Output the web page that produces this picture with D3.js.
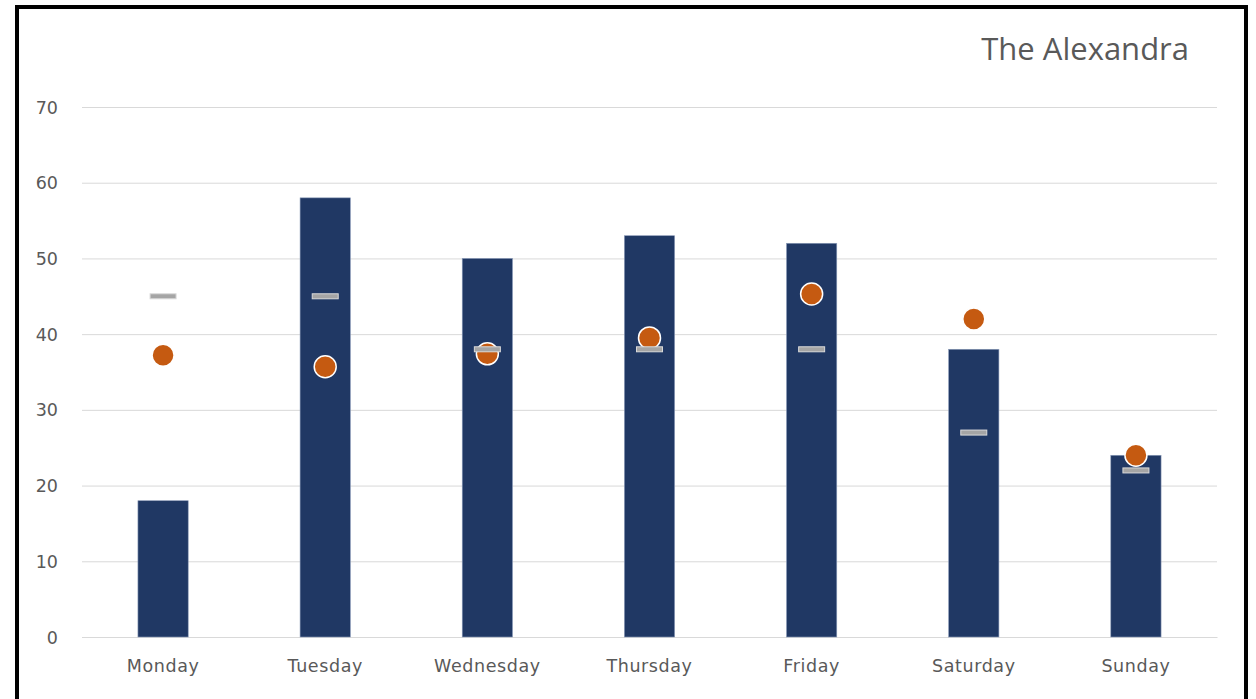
<!DOCTYPE html>
<html>
<head>
<meta charset="utf-8">
<title>The Alexandra</title>
<script src="https://cdn.jsdelivr.net/npm/d3@7"></script>
<style>
body { margin: 0; background: #fff; }
svg { display: block; }
.tick text { font-family: "DejaVu Sans", sans-serif; fill: #595959; }
</style>
</head>
<body>
<svg width="1256" height="699" id="chart"></svg>
<script>
var days = ["Monday", "Tuesday", "Wednesday", "Thursday", "Friday", "Saturday", "Sunday"];
var barValues = [18, 58, 50, 53, 52, 38, 24];
var dotValues = [37.2, 35.7, 37.4, 39.5, 45.3, 42, 24];
var dashValues = [45, 45, 38, 38, 38, 27, 22];
var yTicks = [0, 10, 20, 30, 40, 50, 60, 70];

var svg = d3.select("#chart");

// outer frame
svg.append("rect").attr("x", 17).attr("y", 7).attr("width", 1229).attr("height", 700)
	.attr("fill", "#fff").attr("stroke", "#000").attr("stroke-width", 4);

var margin = {left: 82, right: 39, top: 107, bottom: 62};
var width = 1256 - margin.left - margin.right,
	height = 699 - margin.top - margin.bottom;

var g = svg.append("g").attr("transform", "translate(" + margin.left + "," + margin.top + ")");

var x = d3.scaleBand().domain(days).range([0, width]).paddingInner(0.69).paddingOuter(0.345);
var y = d3.scaleLinear().domain([0, 70]).range([height, 0]);

// grid + y labels
var yAxis = g.append("g").call(d3.axisLeft(y).tickValues(yTicks).tickSize(-width).tickPadding(24));
yAxis.select(".domain").remove();
yAxis.selectAll(".tick line").attr("stroke", "#d9d9d9").attr("stroke-width", 1);
yAxis.selectAll(".tick text").attr("font-size", 17.5).attr("dy", "0.35em");

// x labels
var xAxis = g.append("g").attr("transform", "translate(0," + height + ")")
	.call(d3.axisBottom(x).tickSize(0).tickPadding(23));
xAxis.select(".domain").attr("stroke", "#d9d9d9");
xAxis.selectAll(".tick text").attr("font-size", 17.5).attr("letter-spacing", "0.6px");

// bars
g.selectAll(".bar").data(barValues).enter().append("rect")
	.attr("x", function(d, i) { return x(days[i]); })
	.attr("y", function(d) { return y(d); })
	.attr("width", x.bandwidth())
	.attr("height", function(d) { return height - y(d); })
	.attr("fill", "#203864")
	.attr("stroke", "#8a9ab8").attr("stroke-width", 0.6);

// dots
g.selectAll(".dot").data(dotValues).enter().append("circle")
	.attr("cx", function(d, i) { return x(days[i]) + x.bandwidth() / 2; })
	.attr("cy", function(d) { return y(d); })
	.attr("r", 11)
	.attr("fill", "#c55a11")
	.attr("stroke", "#fff").attr("stroke-width", 1.5);

// dashes
g.selectAll(".dash").data(dashValues).enter().append("rect")
	.attr("x", function(d, i) { return x(days[i]) + x.bandwidth() / 2 - 13; })
	.attr("y", function(d) { return y(d) - 2.5; })
	.attr("width", 26).attr("height", 5)
	.attr("fill", "#a5a5a5")
	.attr("stroke", "#d9d9d9").attr("stroke-width", 1);

// title
svg.append("text").attr("x", 1189).attr("y", 60).attr("text-anchor", "end")
	.attr("font-family", "'Open Sans', sans-serif").attr("font-size", 31)
	.attr("fill", "#595959").text("The Alexandra");
</script>
</body>
</html>
